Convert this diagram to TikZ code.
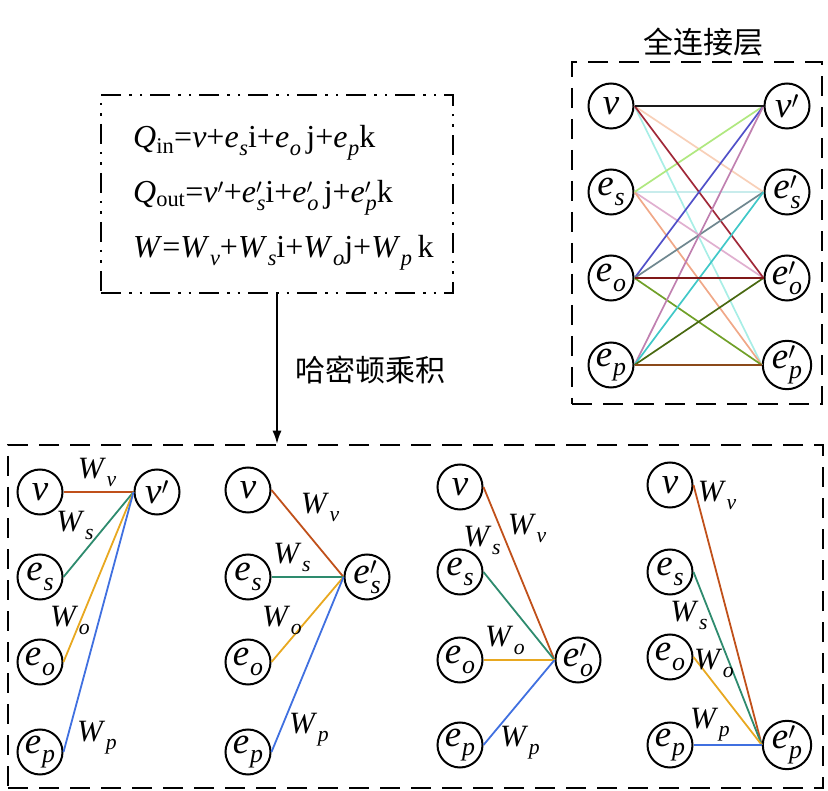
\documentclass[tikz,border=0pt]{standalone}
\usepackage{fontspec}
\setmainfont{Liberation Serif}
\newfontfamily\cjk{Noto Sans CJK SC}
\usetikzlibrary{arrows.meta}
\newcommand\subx[1]{\raisebox{-0.26em}{\scalebox{0.7}{\itshape #1}}}
\newcommand\sbs[2]{\textit{#1}\kern0.02em\subx{#2}}
\newcommand\sbp[2]{\textit{#1}\rlap{\textsuperscript{$\prime$}}\kern0.02em\subx{#2}}
\newcommand\vpr{\textit{v}\textsuperscript{$\prime$}}
\definecolor{cA}{HTML}{1A1A1A}
\definecolor{cB}{HTML}{F8D0B8}
\definecolor{cC}{HTML}{A02838}
\definecolor{cD}{HTML}{A8EEE6}
\definecolor{cE}{HTML}{B0E880}
\definecolor{cF}{HTML}{C8ECEC}
\definecolor{cG}{HTML}{E0B0D0}
\definecolor{cH}{HTML}{F0A888}
\definecolor{cI}{HTML}{5050C8}
\definecolor{cJ}{HTML}{708890}
\definecolor{cK}{HTML}{801818}
\definecolor{cL}{HTML}{70A028}
\definecolor{cM}{HTML}{C080B0}
\definecolor{cN}{HTML}{40C8C8}
\definecolor{cO}{HTML}{486810}
\definecolor{cP}{HTML}{8B4A1A}
\definecolor{wv}{HTML}{C0501A}
\definecolor{ws}{HTML}{2E8B6E}
\definecolor{wo}{HTML}{E8A820}
\definecolor{wp}{HTML}{4070E0}
\tikzset{
  neuron/.style={circle,draw,line width=2pt,minimum size=45pt,inner sep=0pt,font=\fontsize{37}{37}\selectfont},
  wlab/.style={inner sep=0pt,font=\fontsize{31}{31}\selectfont},
  eqtext/.style={anchor=west,inner sep=0pt,font=\fontsize{32}{32}\selectfont},
  cjklab/.style={inner sep=0pt,font=\cjk\fontsize{30}{30}\selectfont},
  dashbox/.style={draw,line width=2.5pt,dash pattern=on 20pt off 11pt,inner sep=0pt},
  dddbox/.style={draw,line width=2.5pt,dash pattern=on 20pt off 8pt on 2.5pt off 8pt on 2.5pt off 8pt,inner sep=0pt},
  fc/.style={line width=1.7pt},
  wl/.style={line width=1.8pt}
}
\begin{document}
\begin{tikzpicture}[x=1pt,y=-1pt]
\useasboundingbox (0,0) rectangle (828,791);
% equation box
\node[dddbox,minimum width=352pt,minimum height=198pt] (eq) at (277,194) {};
\node[eqtext] (q1) at (133,143) {\textit{Q}\textsubscript{in}=\textit{v}+\sbs{e}{s}i+\sbs{e}{o}\,j+\sbs{e}{p}k};
\node[eqtext] (q2) at (133,198) {\textit{Q}\textsubscript{out}=\vpr+\sbp{e}{s}i+\sbp{e}{o}\,j+\sbp{e}{p}k};
\node[eqtext] (q3) at (133,253) {\textit{W}=\sbs{W}{v}+\sbs{W}{s}i+\sbs{W}{o}j+\sbs{W}{p}\,k};
% FC box
\node[dashbox,minimum width=250pt,minimum height=342pt] (fcbox) at (697,233) {};
\node[cjklab] (fctitle) at (703,42) {全连接层};
\node[neuron] (a1) at (611,106) {\textit{v}};
\node[neuron] (a2) at (611,192) {\sbs{e}{s}};
\node[neuron] (a3) at (611,278) {\sbs{e}{o}};
\node[neuron] (a4) at (611,365) {\sbs{e}{p}};
\node[neuron] (b1) at (787,106) {\vpr};
\node[neuron] (b2) at (787,192) {\sbp{e}{s}};
\node[neuron] (b3) at (787,278) {\sbp{e}{o}};
\node[neuron] (b4) at (787,365) {\sbp{e}{p}};
\draw[fc,cF] (a2.east) -- (b2.west);
\draw[fc,cB] (a1.east) -- (b2.west);
\draw[fc,cD] (a1.east) -- (b4.west);
\draw[fc,cG] (a2.east) -- (b3.west);
\draw[fc,cH] (a2.east) -- (b4.west);
\draw[fc,cE] (a2.east) -- (b1.west);
\draw[fc,cC] (a1.east) -- (b3.west);
\draw[fc,cI] (a3.east) -- (b1.west);
\draw[fc,cJ] (a3.east) -- (b2.west);
\draw[fc,cL] (a3.east) -- (b4.west);
\draw[fc,cM] (a4.east) -- (b1.west);
\draw[fc,cN] (a4.east) -- (b2.west);
\draw[fc,cO] (a4.east) -- (b3.west);
\draw[fc,cK] (a3.east) -- (b3.west);
\draw[fc,cP] (a4.east) -- (b4.west);
\draw[fc,cA] (a1.east) -- (b1.west);
% bottom box
\node[dashbox,minimum width=815pt,minimum height=343pt] (bot) at (415.5,616.5) {};
\draw[line width=1.5pt,-{Latex[length=13pt,width=9pt]}] (eq.south) -- (eq.south |- bot.north);
\node[cjklab] (ham) at (370,370) {哈密顿乘积};
% group 1
\node[neuron] (g1v) at (40,492) {\textit{v}};
\node[neuron] (g1s) at (40,577) {\sbs{e}{s}};
\node[neuron] (g1o) at (40,662) {\sbs{e}{o}};
\node[neuron] (g1p) at (40,752) {\sbs{e}{p}};
\node[neuron] (g1t) at (157,492) {\vpr};
\draw[wl,wv] (g1v.east) -- (g1t.west);
\draw[wl,ws] (g1s.east) -- (g1t.west);
\draw[wl,wo] (g1o.east) -- (g1t.west);
\draw[wl,wp] (g1p.east) -- (g1t.west);
\node[wlab] (g1lv) at (97,472) {\sbs{W}{v}};
\node[wlab] (g1ls) at (75,525) {\sbs{W}{s}};
\node[wlab] (g1lo) at (70,620) {\sbs{W}{o}};
\node[wlab] (g1lp) at (97,738) {\sbs{W}{p}};
% group 2
\node[neuron] (g2v) at (248,490) {\textit{v}};
\node[neuron] (g2s) at (248,577) {\sbs{e}{s}};
\node[neuron] (g2o) at (248,662) {\sbs{e}{o}};
\node[neuron] (g2p) at (248,752) {\sbs{e}{p}};
\node[neuron] (g2t) at (367,577) {\sbp{e}{s}};
\draw[wl,wv] (g2v.east) -- (g2t.west);
\draw[wl,ws] (g2s.east) -- (g2t.west);
\draw[wl,wo] (g2o.east) -- (g2t.west);
\draw[wl,wp] (g2p.east) -- (g2t.west);
\node[wlab] (g2lv) at (320,507) {\sbs{W}{v}};
\node[wlab] (g2ls) at (292,557) {\sbs{W}{s}};
\node[wlab] (g2lo) at (282,620) {\sbs{W}{o}};
\node[wlab] (g2lp) at (309,730) {\sbs{W}{p}};
% group 3
\node[neuron] (g3v) at (460,487) {\textit{v}};
\node[neuron] (g3s) at (460,572) {\sbs{e}{s}};
\node[neuron] (g3o) at (460,660) {\sbs{e}{o}};
\node[neuron] (g3p) at (460,745) {\sbs{e}{p}};
\node[neuron] (g3t) at (578,660) {\sbp{e}{o}};
\draw[wl,wv] (g3v.east) -- (g3t.west);
\draw[wl,ws] (g3s.east) -- (g3t.west);
\draw[wl,wo] (g3o.east) -- (g3t.west);
\draw[wl,wp] (g3p.east) -- (g3t.west);
\node[wlab] (g3lv) at (527,528) {\sbs{W}{v}};
\node[wlab] (g3ls) at (482,540) {\sbs{W}{s}};
\node[wlab] (g3lo) at (505,640) {\sbs{W}{o}};
\node[wlab] (g3lp) at (520,743) {\sbs{W}{p}};
% group 4
\node[neuron] (g4v) at (670,485) {\textit{v}};
\node[neuron] (g4s) at (670,572) {\sbs{e}{s}};
\node[neuron] (g4o) at (670,657) {\sbs{e}{o}};
\node[neuron] (g4p) at (670,745) {\sbs{e}{p}};
\node[neuron] (g4t) at (787,745) {\sbp{e}{p}};
\draw[wl,wv] (g4v.east) -- (g4t.west);
\draw[wl,ws] (g4s.east) -- (g4t.west);
\draw[wl,wo] (g4o.east) -- (g4t.west);
\draw[wl,wp] (g4p.east) -- (g4t.west);
\node[wlab] (g4lv) at (717,495) {\sbs{W}{v}};
\node[wlab] (g4ls) at (689,615) {\sbs{W}{s}};
\node[wlab] (g4lo) at (714,663) {\sbs{W}{o}};
\node[wlab] (g4lp) at (710,725) {\sbs{W}{p}};
\end{tikzpicture}
\end{document}
